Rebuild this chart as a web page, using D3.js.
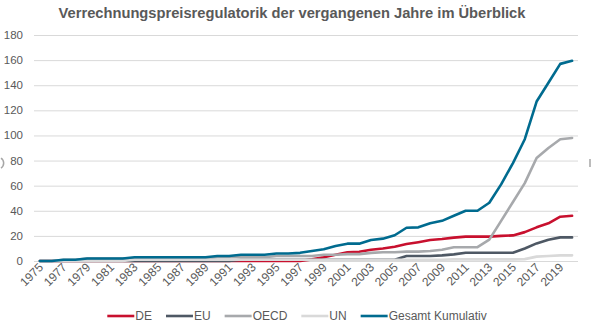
<!DOCTYPE html>
<head>
    <meta charset="utf-8" />
    <script src="https://d3js.org/d3.v7.min.js"></script>
    <style>
        body {
            margin: 0;
            background: #fff;
            font-family: "Liberation Sans", Arial, sans-serif;
        }
    </style>
</head>
<body>
<div id="chart"></div>
<script>
    // Jahre 1975 - 2020
    const years = d3.range(1975, 2021);

    // Werte pro Serie
    const de = [0, 0, 0, 0, 0, 0, 0, 0, 0, 0, 0, 0, 0, 0, 0, 0, 0, 0, 0, 0, 0, 0, 0,
        1.3, 3, 5, 7, 7.4, 9, 10, 11.4, 13.5, 15, 16.7, 17.5, 18.6, 19.4, 19.4, 19.4, 20, 20.4, 23, 26.8, 30, 35.3, 36];
    const eu = [0, 0, 0, 0, 0, 0, 0, 0, 0, 0, 0, 0, 0, 0, 0, 0, 0, 1, 1, 1, 1, 1, 1,
        1, 1, 1, 1, 1, 1, 1, 1, 4, 4, 4, 4.5, 5.3, 6.6, 6.6, 6.6, 6.6, 6.6, 10, 14, 17, 18.8, 18.8];
    const oecd = [0, 0, 1, 1, 2, 2, 2, 2, 2, 2, 2, 2, 2, 2, 2, 3, 3, 3, 3, 3, 4, 4, 4,
        4, 5, 5, 5.5, 5.5, 6.5, 7, 7, 7.5, 7.5, 8, 9, 11, 11, 11, 17, 32, 47, 62, 82, 90, 97, 98];
    const un = [0, 0, 0, 0, 0, 0, 0, 0, 1, 1, 1, 1, 1, 1, 1, 1, 1, 1, 1, 1, 1, 1, 1,
        1, 1, 1, 1, 1, 1, 1, 1, 1, 1, 1, 1, 1.3, 1.3, 1.3, 1.3, 1.3, 1.3, 1.5, 3.5, 4, 4.5, 4.5];
    const gesamt = [0, 0, 1, 1, 2, 2, 2, 2, 3, 3, 3, 3, 3, 3, 3, 4, 4, 5, 5, 5, 6, 6, 6.5,
        8, 9.3, 12, 13.8, 13.8, 16.7, 17.8, 20.5, 26.5, 26.8, 30, 32, 36, 40, 40, 46.4, 61, 78, 97, 127, 142, 157, 159.5];

    const yTicks = [0, 20, 40, 60, 80, 100, 120, 140, 160, 180];

    const series = [
        { name: "DE", values: de, color: "#c8102e" },
        { name: "EU", values: eu, color: "#4e5864" },
        { name: "OECD", values: oecd, color: "#a7a9ac" },
        { name: "UN", values: un, color: "#d9d9d9" },
        { name: "Gesamt Kumulativ", values: gesamt, color: "#006b8f" }
    ];

    const width = 592, height = 328;
    const textColor = "#595959";

    const svg = d3.select("#chart")
        .append("svg")
        .attr("width", width)
        .attr("height", height);

    const x = d3.scalePoint().domain(years).range([34, 578]).padding(0.5);
    const y = d3.scaleLinear().domain([0, 180]).range([261, 35]);

    // Titel
    svg.append("text")
        .attr("x", 292)
        .attr("y", 18)
        .attr("text-anchor", "middle")
        .style("font-size", "14.7px")
        .style("font-weight", "bold")
        .style("fill", textColor)
        .text("Verrechnungspreisregulatorik der vergangenen Jahre im Überblick");

    // Gitterlinien
    svg.selectAll(".grid")
        .data(yTicks)
        .enter()
        .append("line")
        .attr("x1", 34)
        .attr("x2", 578)
        .attr("y1", d => y(d) + 0.5)
        .attr("y2", d => y(d) + 0.5)
        .attr("stroke", "#d9d9d9")
        .attr("stroke-width", 1);

    // y Beschriftung
    svg.selectAll(".ylab")
        .data(yTicks)
        .enter()
        .append("text")
        .attr("x", 23)
        .attr("y", d => y(d) + 4)
        .attr("text-anchor", "end")
        .style("font-size", "11.5px")
        .style("fill", textColor)
        .text(d => d);

    // x Beschriftung (jedes zweite Jahr)
    svg.selectAll(".xlab")
        .data(years.filter((d, i) => i % 2 === 0))
        .enter()
        .append("text")
        .attr("transform", d => "translate(" + (x(d) + 4) + ",268) rotate(-45)")
        .attr("text-anchor", "end")
        .style("font-size", "12px")
        .style("fill", textColor)
        .text(d => d);

    // Linien
    const line = d3.line()
        .x((d, i) => x(years[i]))
        .y(d => y(d));

    svg.selectAll(".serie")
        .data(series)
        .enter()
        .append("path")
        .attr("d", d => line(d.values))
        .attr("fill", "none")
        .attr("stroke", d => d.color)
        .attr("stroke-width", 2.6)
        .attr("stroke-linejoin", "round")
        .attr("stroke-linecap", "round");

    // Legende
    const legend = svg.append("g");
    let lx = 0;
    series.forEach(function(s) {
        const g = legend.append("g").attr("transform", "translate(" + lx + ",0)");
        g.append("line")
            .attr("x1", 0).attr("x2", 27)
            .attr("y1", 0).attr("y2", 0)
            .attr("stroke", s.color)
            .attr("stroke-width", 2.6);
        const t = g.append("text")
            .attr("x", 28)
            .attr("y", 4)
            .style("font-size", "12px")
            .style("fill", textColor)
            .text(s.name);
        lx += 28 + t.node().getComputedTextLength() + 14;
    });
    lx -= 14;
    legend.attr("transform", "translate(" + (297 - lx / 2) + ",316)");

    // abgeschnittene Elemente am Rand
    svg.append("path")
        .attr("d", "M1,158 A6,6 0 0 1 1,168")
        .attr("fill", "none")
        .attr("stroke", "#a6a6a6")
        .attr("stroke-width", 1.5);
    svg.append("line")
        .attr("x1", 590).attr("x2", 590)
        .attr("y1", 159).attr("y2", 167)
        .attr("stroke", "#a6a6a6")
        .attr("stroke-width", 1.5);
</script>
</body>
